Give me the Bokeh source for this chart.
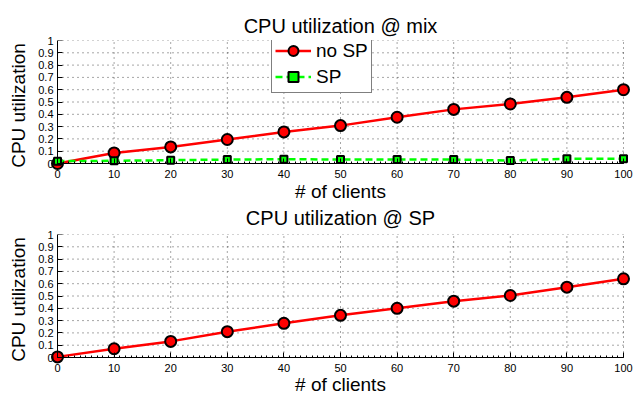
from bokeh.plotting import figure
from bokeh.models import Range1d, FixedTicker, LegendItem, Legend, LinearAxis, Title
from bokeh.layouts import column
from bokeh.embed import file_html
from bokeh.resources import INLINE

# ---------------- data ----------------
clients = [0, 10, 20, 30, 40, 50, 60, 70, 80, 90, 100]
mix_no_sp = [0.0, 0.086, 0.135, 0.195, 0.257, 0.308, 0.376, 0.44, 0.484, 0.538, 0.60]
mix_sp = [0.019, 0.022, 0.027, 0.032, 0.035, 0.032, 0.032, 0.032, 0.024, 0.038, 0.038]
sp_no_sp = [0.005, 0.071, 0.131, 0.21, 0.278, 0.343, 0.40, 0.458, 0.504, 0.572, 0.64]

x_ticks = [0, 10, 20, 30, 40, 50, 60, 70, 80, 90, 100]
y_ticks = [0, 0.1, 0.2, 0.3, 0.4, 0.5, 0.6, 0.7, 0.8, 0.9, 1]
y_tick_labels = ["0", "0.1", "0.2", "0.3", "0.4", "0.5", "0.6", "0.7", "0.8", "0.9", "1"]

titles = ["CPU utilization @ mix", "CPU utilization @ SP"]
x_label = "# of clients"
y_label = "CPU utilization"
legend_labels = ["no SP", "SP"]

# ---------------- style ----------------
FONT = "Liberation Sans"
W = 643
PAD_PX = 7
FRAME_W = 580
FRAME_H = 130
XPAD = PAD_PX * (x_ticks[-1] - x_ticks[0]) / (FRAME_W - 2 * PAD_PX)
YPAD = PAD_PX * (y_ticks[-1] - y_ticks[0]) / (FRAME_H - PAD_PX)
RED = "#ff0000"
GREEN = "#00ff00"


def style_title(t, standoff):
    t.align = "center"
    t.text_font = FONT
    t.text_font_size = "20px"
    t.text_font_style = "normal"
    t.text_color = "black"
    t.standoff = standoff


def make_fig(height, top, bottom, xlab_standoff):
    p = figure(width=W, height=height, output_backend="svg", toolbar_location=None,
               x_range=Range1d(x_ticks[0] - XPAD, x_ticks[-1] + XPAD),
               y_range=Range1d(y_ticks[0] - YPAD, y_ticks[-1]),
               min_border_left=50, min_border_right=W - 50 - FRAME_W,
               min_border_top=top, min_border_bottom=bottom)
    p.outline_line_color = None
    p.background_fill_color = "white"
    p.border_fill_color = "white"
    p.xgrid.visible = False
    p.ygrid.visible = False

    # dotted grid drawn from the tick lists
    n_y = len(y_ticks) - 1
    p.segment(x0=[x_ticks[0]] * n_y, x1=[x_ticks[-1]] * n_y, y0=y_ticks[1:], y1=y_ticks[1:],
              line_color="black", line_alpha=0.7, line_width=1, line_dash="1 4")
    n_x = len(x_ticks) - 1
    p.segment(x0=x_ticks[1:], x1=x_ticks[1:], y0=[y_ticks[0]] * n_x, y1=[y_ticks[-1]] * n_x,
              line_color="black", line_alpha=0.7, line_width=1, line_dash="1 4")

    # label axes (at the frame edges): tick labels and axis titles
    xa = p.xaxis[0]
    xa.ticker = FixedTicker(ticks=x_ticks)
    xa.major_label_standoff = -1
    xa.axis_label = x_label
    xa.axis_label_standoff = xlab_standoff

    ya = p.yaxis[0]
    ya.ticker = FixedTicker(ticks=y_ticks)
    ya.major_label_overrides = dict(zip(y_ticks, y_tick_labels))
    ya.major_label_standoff = -3
    ya.axis_label = y_label
    ya.axis_label_standoff = 6

    for ax in (xa, ya):
        ax.axis_line_color = None
        ax.major_tick_line_color = None
        ax.minor_tick_line_color = None
        ax.major_tick_in = 0
        ax.major_tick_out = 0
        ax.minor_tick_in = 0
        ax.minor_tick_out = 0
        ax.major_label_text_font = FONT
        ax.major_label_text_font_size = "11px"
        ax.major_label_text_color = "black"
        ax.axis_label_text_font = FONT
        ax.axis_label_text_font_size = "19px"
        ax.axis_label_text_font_style = "normal"
        ax.axis_label_text_color = "black"

    # line axes crossing at the data origin, with inward ticks
    xl = LinearAxis(fixed_location=y_ticks[0], bounds=(x_ticks[0], x_ticks[-1]),
                    ticker=FixedTicker(ticks=x_ticks,
                                       minor_ticks=list(range(x_ticks[0], x_ticks[-1] + 1))),
                    major_tick_in=5, major_tick_out=0, minor_tick_in=2, minor_tick_out=0,
                    axis_line_color="black", major_tick_line_color="black",
                    minor_tick_line_color="black", major_label_text_color=None)
    yl = LinearAxis(fixed_location=x_ticks[0], bounds=(y_ticks[0], y_ticks[-1]),
                    ticker=FixedTicker(ticks=y_ticks),
                    major_tick_in=5, major_tick_out=0,
                    axis_line_color="black", major_tick_line_color="black",
                    minor_tick_line_color=None, major_label_text_color=None)
    p.add_layout(xl, "below")
    p.add_layout(yl, "left")
    return p


# ---------------- top: mix ----------------
p1 = make_fig(230, 40, 60, 0)
p1.title.text = titles[0]
style_title(p1.title, 8)
l1 = p1.line(clients, mix_no_sp, line_color=RED, line_width=2.5)
s1 = p1.scatter(clients, mix_no_sp, marker="circle", size=11, fill_color=RED,
                line_color="black", line_width=2)
l2 = p1.line(clients, mix_sp, line_color=GREEN, line_width=2.5, line_dash="7 4")
s2 = p1.scatter(clients, mix_sp, marker="square", size=7, fill_color=GREEN,
                line_color="black", line_width=2)

legend = Legend(items=[LegendItem(label=legend_labels[0], renderers=[l1, s1]),
                       LegendItem(label=legend_labels[1], renderers=[l2, s2])],
                location=(221, 77), padding=3, spacing=1, margin=0,
                glyph_width=36, glyph_height=25, label_height=25, label_standoff=5,
                label_text_font=FONT, label_text_font_size="19px", label_text_color="black",
                border_line_color="black", border_line_width=1.5,
                background_fill_color="white", background_fill_alpha=1.0)
p1.add_layout(legend)

# title of the lower panel sits just above its frame
t2 = Title(text=titles[1])
style_title(t2, 1)
p1.add_layout(t2, "below")

# ---------------- bottom: SP ----------------
p2 = make_fig(167, 4, 33, -1)
p2.title.visible = False
p2.line(clients, sp_no_sp, line_color=RED, line_width=2.5)
p2.scatter(clients, sp_no_sp, marker="circle", size=11, fill_color=RED,
           line_color="black", line_width=2)

layout = column(p1, p2, spacing=0)
open("out.html", "w").write(file_html(layout, INLINE))
